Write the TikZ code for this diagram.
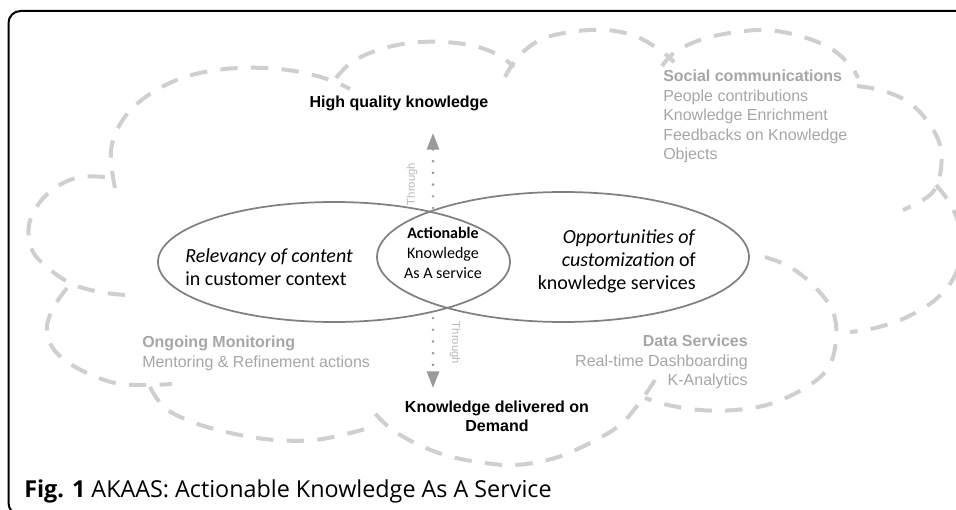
\documentclass[tikz,border=0pt]{standalone}
\usepackage{fontspec}
\setmainfont{Liberation Sans}
\newfontfamily\calibri{Carlito}
\newfontfamily\capfont{Open Sans}
\usetikzlibrary{shapes.geometric}
\usetikzlibrary{arrows.meta}
\definecolor{cloudgray}{HTML}{CFCFCF}
\definecolor{ringgray}{HTML}{808080}
\definecolor{notegray}{HTML}{A6A6A6}
\definecolor{arrowgray}{HTML}{9A9A9A}

\begin{document}
\begin{tikzpicture}[x=0.75pt,y=-0.75pt,
		cloud/.style={draw=cloudgray,line width=3pt,dash pattern=on 13pt off 10pt},
		ring/.style={draw=ringgray,line width=1.3pt,ellipse,inner sep=0pt},
		ringtext/.style={inner sep=0pt,font=\calibri\fontsize{15}{17.5}\selectfont},
		note/.style={text=notegray,inner sep=0pt,font=\fontsize{12}{14.6}\selectfont},
		goal/.style={inner sep=0pt,align=center,font=\bfseries\fontsize{12}{14.3}\selectfont},
		thru/.style={text=notegray!80,inner sep=0pt,font=\fontsize{8.5}{10}\selectfont},
		through/.style={draw=arrowgray,line width=2.2pt,line cap=round,dash pattern=on 0pt off 8.8pt,
			-{Triangle[width=9pt,length=12.5pt,fill=arrowgray]}}]
	\useasboundingbox (0,0) rectangle (956,510);
	\draw[line width=1.5pt,rounded corners=9pt] (965,11) -- (8.5,11) -- (8.5,515) -- (965,515);

	% cloud lobes
	\draw[cloud] plot[smooth,tension=0.6] coordinates {(115,188) (111,150) (124,118) (150,94) (185,77) (225,69) (265,68) (300,72) (330,80) (350,89)};
	\draw[cloud] plot[smooth,tension=0.6] coordinates {(336,78) (352,62) (378,50) (410,43) (445,42) (478,47) (500,56) (514,67)};
	\draw[cloud] plot[smooth,tension=0.6] coordinates {(505,77) (518,57) (540,40) (570,32) (605,30) (635,36) (660,50) (674,62)};
	\draw[cloud] plot[smooth,tension=0.6] coordinates {(662,66) (675,52) (700,40) (730,33) (765,30) (800,36) (830,48) (850,65) (858,78)};
	\draw[cloud] plot[smooth,tension=0.6] coordinates {(857,86) (880,90) (905,100) (925,118) (940,145) (940,175) (930,195) (903,210)};
	\draw[cloud] plot[smooth,tension=0.6] coordinates {(936,185) (952,207) (962,240) (955,275) (935,300) (905,318) (875,328) (850,332)};
	\draw[cloud] plot[smooth,tension=0.6] coordinates {(765,257) (790,267) (815,287) (833,312) (836,340) (828,368) (805,388) (770,404) (735,410) (700,410) (668,405) (645,398)};
	\draw[cloud] plot[smooth,tension=0.6] coordinates {(655,380) (640,402) (620,425) (590,443) (555,458) (515,465) (478,462) (445,455) (415,443) (390,428) (372,410)};
	\draw[cloud] plot[smooth,tension=0.6] coordinates {(150,387) (165,408) (195,423) (235,434) (275,440) (315,440) (350,433) (372,427)};
	\draw[cloud] plot[smooth,tension=0.6] coordinates {(67,288) (55,305) (47,325) (50,343) (62,358) (85,372) (115,383) (145,385) (172,384)};
	\draw[cloud] plot[smooth,tension=0.6] coordinates {(105,177) (80,177) (58,186) (40,202) (29,225) (32,250) (48,268) (72,284) (100,292) (125,295)};

	\node[ring,minimum width=264pt,minimum height=90pt] (content) at (334,262) {};
	\node[ring,minimum width=279pt,minimum height=97.5pt] (service) at (563,257) {};

	\node[ringtext,anchor=north west,align=left] (relevancy) at (185,248) {\textit{Relevancy of content}\\in customer context};
	\node[ringtext,anchor=north east,align=right] (custom) at (696,229) {\textit{Opportunities of}\\\textit{customization} of\\knowledge services};
	\node[inner sep=0pt,align=center,font=\calibri\fontsize{12}{15}\selectfont] (akaas) at (443,253) {\textbf{Actionable}\\Knowledge\\As A service};

	\node[goal] (quality) at (399,103) {High quality knowledge};
	\node[goal] (demand) at (497,416) {Knowledge delivered on\\Demand};

	\node[note,anchor=north west,align=left] (social) at (663,70) {\textbf{Social communications}\\People contributions\\Knowledge Enrichment\\Feedbacks on Knowledge\\Objects};
	\node[note,anchor=north west,align=left] (ongoing) at (142,336) {\textbf{Ongoing Monitoring}\\Mentoring \& Refinement actions};
	\node[note,anchor=north east,align=right] (data) at (748,335) {\textbf{Data Services}\\Real-time Dashboarding\\K-Analytics};

	\coordinate (upfoot) at (433,208);
	\coordinate (uptip) at (433,133);
	\coordinate (downfoot) at (433,318);
	\coordinate (downtip) at (433,388);
	\draw[through] (upfoot) -- (uptip);
	\draw[through] (downfoot) -- (downtip);
	\node[thru,rotate=90] (thru1) at (412,184) {Through};
	\node[thru,rotate=-90] (thru2) at (455,343) {Through};

	\node[anchor=base west,inner sep=0pt,font=\capfont\fontsize{17.5}{20}\selectfont] (caption) at (24,497) {\textbf{Fig. 1} AKAAS: Actionable Knowledge As A Service};
\end{tikzpicture}
\end{document}
